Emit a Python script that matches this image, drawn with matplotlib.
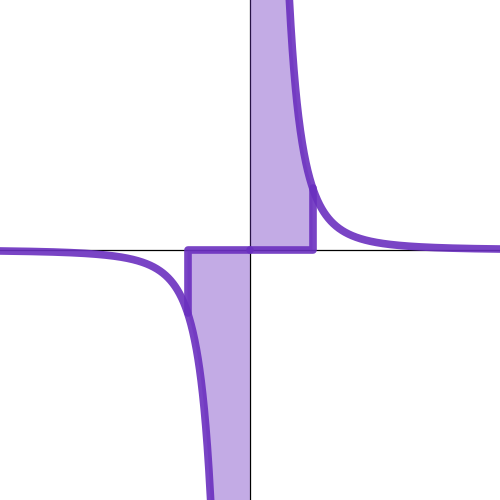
import numpy as np
import matplotlib
matplotlib.use("Agg")
import matplotlib.pyplot as plt

# curve y = 1/x^3, shaded between 0 and +/-1
power = 3
x_lim = (-4, 4)
y_lim = (-4, 4)
shade_pos = (0, 1)
shade_neg = (-1, 0)

line_color = "#6a2fbf"


def f(x):
    return 1.0 / x**power


fig = plt.figure(figsize=(5, 5), dpi=100)
ax = fig.add_axes([0, 0, 1, 1])

ax.axhline(0, color="black", lw=0.9, zorder=1)
ax.axvline(0, color="black", lw=0.9, zorder=1)

xs_pos = np.linspace(0.05, x_lim[1], 800)
xs_neg = np.linspace(x_lim[0], -0.05, 800)

# shaded regions
fx = np.linspace(shade_pos[0] + 1e-3, shade_pos[1], 400)
ax.fill_between(fx, 0, f(fx), color=line_color, alpha=0.4, lw=0, zorder=2)
fx = np.linspace(shade_neg[0], shade_neg[1] - 1e-3, 400)
ax.fill_between(fx, f(fx), 0, color=line_color, alpha=0.4, lw=0, zorder=2)

# step edges
a, b = shade_pos
ax.plot([a, b, b], [0, 0, f(b)], color=line_color, lw=5.5, alpha=0.9,
        solid_joinstyle="round", solid_capstyle="round", zorder=3)
a, b = shade_neg
ax.plot([a, a, b], [f(a), 0, 0], color=line_color, lw=5.5, alpha=0.9,
        solid_joinstyle="round", solid_capstyle="round", zorder=3)

ax.plot(xs_pos, f(xs_pos), color=line_color, lw=5.5, alpha=0.9, zorder=4)
ax.plot(xs_neg, f(xs_neg), color=line_color, lw=5.5, alpha=0.9, zorder=4)

ax.set_xlim(*x_lim)
ax.set_ylim(*y_lim)
ax.axis("off")

fig.savefig("out.png", dpi=100)
